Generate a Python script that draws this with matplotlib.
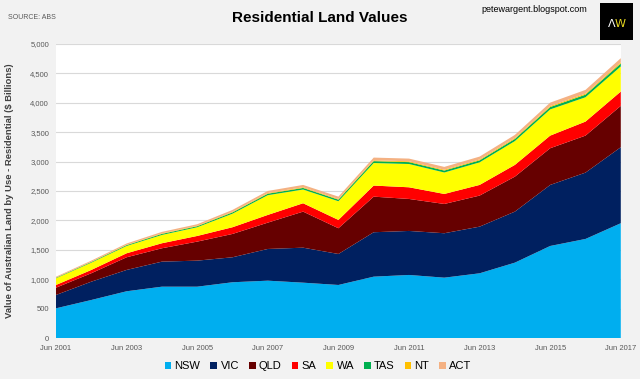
import matplotlib
matplotlib.use("Agg")
import matplotlib.pyplot as plt
from matplotlib import font_manager
from matplotlib.ticker import FuncFormatter, FixedLocator
from matplotlib.patches import Rectangle

names = {f.name for f in font_manager.fontManager.ttflist}
narrow = "Liberation Sans Narrow" if "Liberation Sans Narrow" in names else "Liberation Sans"

years = list(range(2001, 2018))
states = ["NSW", "VIC", "QLD", "SA", "WA", "TAS", "NT", "ACT"]
colors = ["#00AEEF", "#002060", "#660000", "#FF0000", "#FFFF00", "#00B050", "#FFC000", "#F4B183"]

nsw = [509, 650, 798, 876, 876, 951, 978, 944, 905, 1046, 1075, 1029, 1103, 1284, 1567, 1686, 1953]
vic = [226, 311, 362, 425, 442, 424, 538, 594, 526, 754, 747, 754, 792, 866, 1036, 1126, 1290]
qld = [124, 143, 215, 227, 323, 396, 447, 612, 437, 604, 543, 497, 527, 594, 623, 628, 702]
sa = [46, 56, 68, 85, 96, 114, 131, 142, 141, 188, 198, 170, 181, 199, 214, 238, 243]
wa = [114, 124, 124, 141, 148, 230, 335, 233, 317, 383, 395, 364, 383, 404, 445, 413, 426]
tas = [8, 11, 14, 18, 17, 22, 25, 27, 27, 32, 32, 33, 34, 37, 40, 44, 50]
nt = [4, 5, 6, 8, 8, 10, 11, 12, 12, 14, 14, 14, 15, 16, 17, 18, 20]
act = [14, 18, 22, 26, 26, 32, 36, 39, 39, 46, 46, 48, 49, 52, 58, 63, 70]
series = [nsw, vic, qld, sa, wa, tas, nt, act]

tick_years = list(range(2001, 2018, 2))
tick_labels = [f"Jun {y}" for y in tick_years]

fig = plt.figure(figsize=(6.4, 3.79), dpi=100, facecolor="#F2F2F2")
ax = fig.add_axes([0.0875, 0.1074, 0.8825, 0.7773])
ax.set_facecolor("white")

ax.stackplot(years, *series, colors=colors, labels=states, linewidth=0)

ax.set_xlim(2001, 2017)
ax.set_ylim(0, 5000)
ax.yaxis.set_major_locator(FixedLocator(range(0, 5001, 500)))
ax.yaxis.set_major_formatter(FuncFormatter(lambda v, p: f"{int(v):,}"))
ax.set_xticks(tick_years)
ax.set_xticklabels(tick_labels)
ax.grid(axis="y", color="#D9D9D9", linewidth=0.8)
ax.set_axisbelow(True)
for s in ax.spines.values():
    s.set_visible(False)
ax.tick_params(length=0, labelsize=5.5, labelcolor="#595959", pad=5)
for lab in ax.get_xticklabels() + ax.get_yticklabels():
    lab.set_family(narrow)

ax.set_ylabel(r"Value of Australian Land by Use - Residential (\$ Billions)",
              fontsize=6.8, fontweight="bold", color="#404040", family=narrow)
ax.yaxis.set_label_coords(-0.075, 0.5)

fig.text(0.5, 0.953, "Residential Land Values", ha="center", va="center",
         fontsize=11, fontweight="bold", family=narrow, color="#000000")
fig.text(0.012, 0.953, "SOURCE: ABS", ha="left", va="center", fontsize=5,
         family=narrow, color="#595959")
fig.text(0.917, 0.975, "petewargent.blogspot.com", ha="right", va="center",
         fontsize=6.5, family=narrow, color="#000000")

# logo
fig.patches.append(Rectangle((600 / 640, 1 - 40 / 379), 33 / 640, 37 / 379,
                             transform=fig.transFigure, facecolor="black", edgecolor="none"))
fig.text(612 / 640, 1 - 24 / 379, "Λ", ha="center", va="center", fontsize=8, color="white")
fig.text(620 / 640, 1 - 24 / 379, "W", ha="center", va="center", fontsize=8, color="#E8D820")

handles, labels = ax.get_legend_handles_labels()
leg = fig.legend(handles, labels, loc="center", bbox_to_anchor=(0.497, 0.034), ncol=8,
                 frameon=False, fontsize=8, handlelength=0.6, handleheight=0.6,
                 handletextpad=0.3, columnspacing=0.9)
for t in leg.get_texts():
    t.set_family(narrow)

fig.savefig("out.png", dpi=100, facecolor=fig.get_facecolor())
